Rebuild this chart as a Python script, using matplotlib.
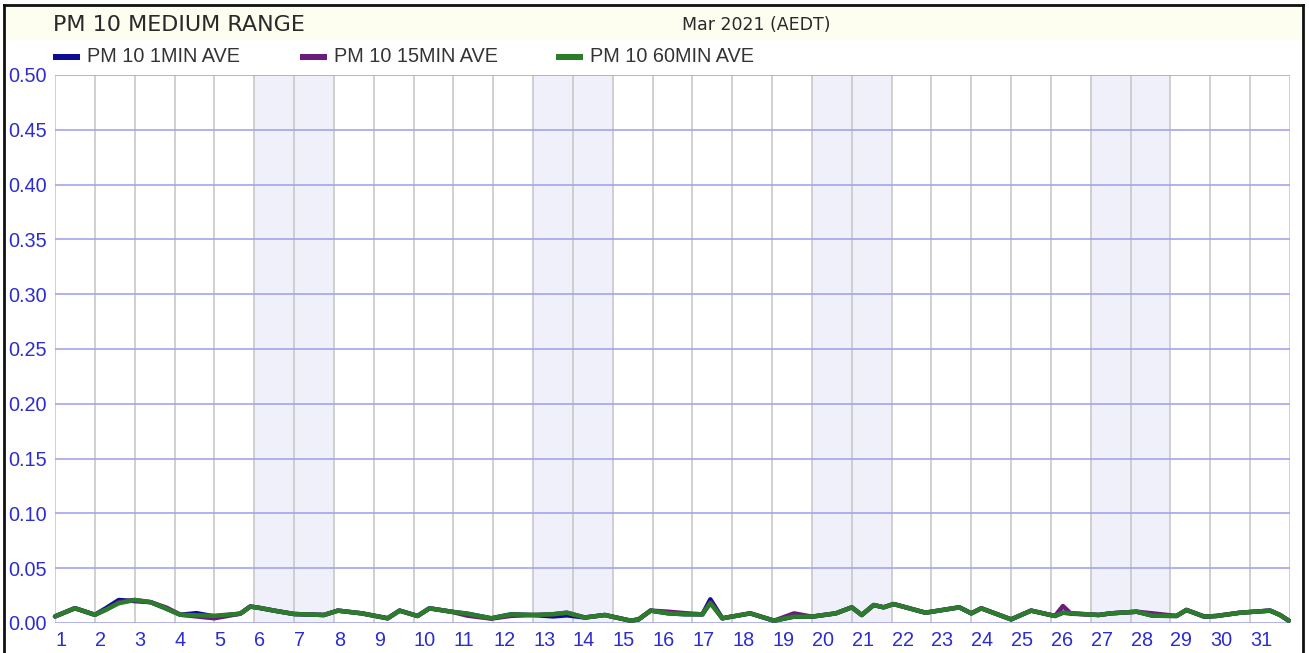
import matplotlib.pyplot as plt
from matplotlib.patches import Rectangle
from matplotlib.lines import Line2D

# day of month (fractional) for every sample
days = [1.0, 1.5, 2.0, 2.3, 2.6, 3.0, 3.4, 3.8, 4.15, 4.55, 5.0, 5.65, 5.9, 6.1,
        6.5, 7.0, 7.75, 8.1, 8.7, 9.35, 9.65, 10.1, 10.4, 10.95, 11.35, 11.95,
        12.45, 13.0, 13.5, 13.85, 14.3, 14.8, 15.45, 15.65, 15.95, 16.4, 16.8,
        17.25, 17.45, 17.75, 18.45, 19.05, 19.55, 20.0, 20.6, 21.0, 21.25, 21.55,
        21.8, 22.05, 22.85, 23.7, 24.0, 24.25, 25.0, 25.5, 26.1, 26.3, 26.5, 27.2,
        27.5, 28.15, 28.55, 29.15, 29.4, 29.85, 30.15, 30.75, 31.5, 31.75, 31.97]

pm10_1min = [0.006, 0.0135, 0.0075, 0.014, 0.021, 0.020, 0.019, 0.013, 0.0075, 0.009,
             0.006, 0.0085, 0.015, 0.014, 0.0113, 0.0082, 0.0073, 0.0113, 0.0088,
             0.0043, 0.0113, 0.0064, 0.0134, 0.0103, 0.0085, 0.0043, 0.0079, 0.0073,
             0.006, 0.007, 0.005, 0.0073, 0.0021, 0.0033, 0.0113, 0.0088, 0.008,
             0.0079, 0.0216, 0.0043, 0.0088, 0.0021, 0.0058, 0.0058, 0.0088, 0.0143,
             0.0073, 0.0164, 0.0143, 0.0173, 0.0094, 0.0143, 0.0088, 0.0134, 0.0033,
             0.0113, 0.0064, 0.0094, 0.0088, 0.0073, 0.0088, 0.0103, 0.0067, 0.0064,
             0.0119, 0.0058, 0.0064, 0.0094, 0.0113, 0.0073, 0.0021]

pm10_15min = [0.006, 0.0135, 0.0075, 0.0125, 0.019, 0.021, 0.019, 0.014, 0.0075, 0.006,
              0.0043, 0.0085, 0.015, 0.014, 0.0113, 0.0082, 0.0073, 0.0113, 0.0088,
              0.0043, 0.0113, 0.0064, 0.0134, 0.0103, 0.0067, 0.004, 0.0065, 0.0073,
              0.008, 0.0094, 0.005, 0.0073, 0.0021, 0.0033, 0.0113, 0.0103, 0.009,
              0.0079, 0.019, 0.0043, 0.0088, 0.0021, 0.0088, 0.0058, 0.0088, 0.0143,
              0.0073, 0.0164, 0.0143, 0.0173, 0.0094, 0.0143, 0.0088, 0.0134, 0.0033,
              0.0113, 0.0064, 0.0155, 0.0085, 0.0073, 0.0088, 0.0103, 0.0088, 0.0064,
              0.0119, 0.0058, 0.0064, 0.0094, 0.0113, 0.0073, 0.0021]

pm10_60min = [0.006, 0.0135, 0.0075, 0.0125, 0.018, 0.021, 0.019, 0.013, 0.0075, 0.007,
              0.0066, 0.0085, 0.015, 0.014, 0.0113, 0.0082, 0.0073, 0.0113, 0.0088,
              0.0043, 0.0113, 0.0064, 0.0134, 0.0103, 0.0085, 0.0043, 0.0079, 0.0073,
              0.008, 0.0094, 0.005, 0.0073, 0.0021, 0.0033, 0.0113, 0.0088, 0.008,
              0.0079, 0.018, 0.0043, 0.0088, 0.0021, 0.0058, 0.0058, 0.0088, 0.0143,
              0.0073, 0.0164, 0.0143, 0.0173, 0.0094, 0.0143, 0.0088, 0.0134, 0.0033,
              0.0113, 0.0064, 0.0094, 0.0088, 0.0073, 0.0088, 0.0103, 0.0067, 0.0064,
              0.0119, 0.0058, 0.0064, 0.0094, 0.0113, 0.0073, 0.0021]

series_names = ["PM 10 1MIN AVE", "PM 10 15MIN AVE", "PM 10 60MIN AVE"]
series_colors = ["#0c0c94", "#6a1c7c", "#2b7c2b"]
weekends = [6, 13, 20, 27]
day_labels = [str(d) for d in range(1, 32)]
y_ticks = [0.0, 0.05, 0.10, 0.15, 0.20, 0.25, 0.30, 0.35, 0.40, 0.45, 0.50]

W, H = 1309, 653
fig = plt.figure(figsize=(W / 100, H / 100), dpi=100)
fig.patch.set_facecolor("white")

# header strip and outer frame
fig.patches.append(Rectangle((5 / W, 1 - 40 / H), 1297 / W, 34 / H, transform=fig.transFigure,
                             facecolor="#fdfdf0", edgecolor="none", zorder=0))
for xs, ys in [([4 / W, 4 / W], [0, 1 - 5 / H]),
               ([4 / W, 1303 / W], [1 - 5 / H, 1 - 5 / H]),
               ([1303 / W, 1303 / W], [0, 1 - 5 / H])]:
    fig.lines.append(Line2D(xs, ys, transform=fig.transFigure, color="#111111", linewidth=2))

fig.text(53 / W, 1 - 25 / H, "PM 10 MEDIUM RANGE", fontsize=16, color="#2a2a2a",
         family="DejaVu Sans", va="center", ha="left")
fig.text(756 / W, 1 - 25 / H, "Mar 2021 (AEDT)", fontsize=12.5, color="#2a2a2a",
         family="DejaVu Sans", va="center", ha="center")

# legend
leg_x = [53, 300, 556]
for x0, name, col in zip(leg_x, series_names, series_colors):
    fig.patches.append(Rectangle((x0 / W, 1 - 60 / H), 27 / W, 6 / H, transform=fig.transFigure,
                                 facecolor=col, edgecolor="none"))
    fig.text((x0 + 34) / W, 1 - 56 / H, name, fontsize=14.3, color="#333333",
             family="Liberation Sans", va="center", ha="left")

ax = fig.add_axes([55 / W, 1 - 623 / H, 1235 / W, 548 / H])
ax.set_xlim(1, 32)
ax.set_ylim(0, 0.5)

for d in weekends:
    ax.axvspan(d, d + 2, color="#f0f0fb", zorder=0, linewidth=0)
for d in range(1, 33):
    ax.axvline(d, color="#c8c8c8", linewidth=1.2, zorder=1)
for y in y_ticks:
    ax.axhline(y, color="#a4a4ee", linewidth=1.2, zorder=1)

for vals, col in zip([pm10_1min, pm10_15min, pm10_60min], series_colors):
    ax.plot(days, vals, color=col, linewidth=3.2, solid_joinstyle="round",
            solid_capstyle="round", zorder=3, clip_on=False)

for s in ax.spines.values():
    s.set_visible(False)

ax.set_yticks(y_ticks)
ax.set_yticklabels(["%.2f" % y for y in y_ticks])
ax.set_xticks(range(1, 32))
ax.set_xticklabels(day_labels)
ax.tick_params(axis="both", length=0, colors="#2c2cd0", labelsize=14.3)
ax.tick_params(axis="y", pad=6)
ax.tick_params(axis="x", pad=6)
for lab in ax.get_xticklabels():
    lab.set_ha("left")
for lab in ax.get_xticklabels() + ax.get_yticklabels():
    lab.set_family("Liberation Sans")

fig.savefig("out.png", dpi=100)
